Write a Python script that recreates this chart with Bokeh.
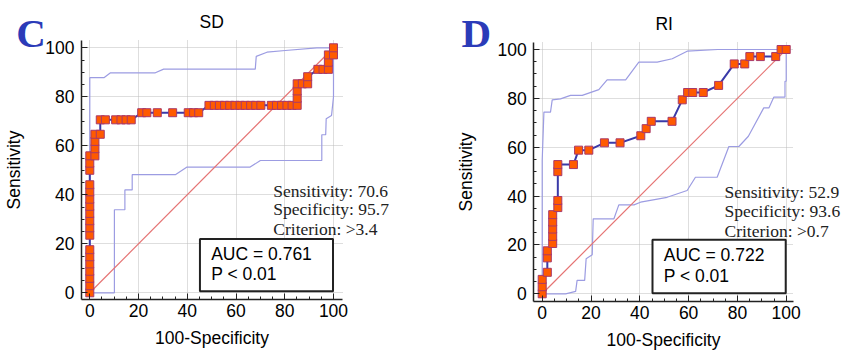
from bokeh.plotting import figure
from bokeh.layouts import row
from bokeh.models import FixedTicker, Label, BoxAnnotation, Range1d, Grid
from bokeh.embed import file_html
from bokeh.resources import INLINE

# ---------------- data ----------------
tick_values = [0, 20, 40, 60, 80, 100]
minor_values = [5, 10, 15, 25, 30, 35, 45, 50, 55, 65, 70, 75, 85, 90, 95]
x_title = "100-Specificity"
y_title = "Sensitivity"

# SD panel
sd_title = "SD"
sd_letter = "C"
sd_fpr = [0, 0, 0, 0, 0, 0, 0, 0, 0, 0, 0, 0, 0, 0, 0, 0, 0, 0,
          2.1, 2.1, 2.1, 2.1,
          4.3, 4.3, 6.4, 10.6, 12.8, 14.9, 17.0,
          21.3, 23.4, 27.7, 34.0, 40.4, 42.6, 44.7,
          48.9, 51.1, 53.2, 55.3, 57.4, 59.6, 61.7, 63.8, 66.0, 68.1, 70.2,
          74.5, 76.6, 78.7, 80.9, 83.0, 85.1,
          85.1, 85.1, 85.1, 87.2, 89.4, 89.4,
          93.6, 95.7, 97.9, 97.9, 97.9, 100, 100]
sd_tpr = [0, 2.9, 5.9, 8.8, 11.8, 14.7, 17.6, 23.5, 26.5, 29.4, 32.4, 35.3, 38.2, 41.2, 44.1, 50.0, 52.9, 55.9,
          55.9, 58.8, 61.8, 64.7,
          64.7, 70.6, 70.6, 70.6, 70.6, 70.6, 70.6,
          73.5, 73.5, 73.5, 73.5, 73.5, 73.5, 73.5,
          76.5, 76.5, 76.5, 76.5, 76.5, 76.5, 76.5, 76.5, 76.5, 76.5, 76.5,
          76.5, 76.5, 76.5, 76.5, 76.5, 76.5,
          79.4, 82.4, 85.3, 85.3, 85.3, 88.2,
          91.2, 91.2, 91.2, 94.1, 97.1, 97.1, 100]
sd_upper_x = [0, 0, 5.8, 8.5, 26.9, 30.3, 67.9, 68.3, 72.7, 80.2, 93.2, 100]
sd_upper_y = [0, 87.8, 87.8, 89.8, 89.8, 91.3, 91.3, 96.5, 98.2, 98.9, 100, 100]
sd_lower_x = [0, 10.1, 10.1, 14.4, 14.4, 17.4, 17.4, 35.1, 39.9, 65.8, 70.0, 95.2, 95.2, 96.8, 97.0, 99.2, 100, 100]
sd_lower_y = [0, 0, 33.9, 33.9, 42.0, 42.0, 48.2, 48.2, 51.3, 51.3, 54.0, 54.0, 64.5, 64.5, 71.0, 72.4, 80.0, 100]
sd_stats = ["Sensitivity: 70.6", "Specificity: 95.7", "Criterion: >3.4"]
sd_auc = ["AUC = 0.761", "P < 0.01"]

# RI panel
ri_title = "RI"
ri_letter = "D"
ri_fpr = [0, 0, 0, 2.1, 2.1, 2.1, 4.3, 4.3, 4.3, 4.3, 4.3, 6.4, 6.4, 6.4, 6.4,
          12.8, 14.9, 19.1, 25.5, 31.9, 40.4, 42.6, 44.7, 53.2, 57.4, 59.6, 61.7, 66.0,
          72.3, 78.7, 83.0, 85.1, 89.4, 95.7, 97.9, 100]
ri_tpr = [0, 2.9, 5.9, 8.8, 14.7, 17.6, 20.6, 23.5, 26.5, 29.4, 32.4, 35.3, 38.2, 50.0, 52.9,
          52.9, 58.8, 58.8, 61.8, 61.8, 64.7, 67.6, 70.6, 70.6, 79.4, 82.4, 82.4, 82.4,
          85.3, 94.1, 94.1, 97.1, 97.1, 97.1, 100, 100]
ri_upper_x = [0, 0, 0.7, 3.4, 4.1, 7.5, 11.6, 16.4, 23.2, 26.6, 34.2, 39.6, 47.1, 53.3, 59.4, 72.0, 100]
ri_upper_y = [0, 54.6, 74.4, 74.4, 79.4, 79.8, 81.2, 81.2, 83.6, 87.6, 87.6, 94.8, 94.8, 96.2, 99.3, 100, 100]
ri_lower_x = [0, 9.6, 13.7, 14.3, 17.4, 18.0, 20.5, 20.9, 29.4, 31.4, 37.6, 40.3, 51.2, 59.4, 62.8, 71.7,
              76.5, 80.6, 84.5, 90.8, 92.9, 94.9, 99.5, 99.5, 100, 100]
ri_lower_y = [0, 0, 1.0, 5.5, 5.5, 14.3, 16.0, 30.7, 30.7, 36.4, 36.4, 37.5, 39.5, 42.3, 47.7, 47.7,
              60.3, 60.3, 64.5, 76.1, 76.1, 80.5, 80.5, 87.0, 87.0, 100]
ri_stats = ["Sensitivity: 52.9", "Specificity: 93.6", "Criterion: >0.7"]
ri_auc = ["AUC = 0.722", "P < 0.01"]

# ---------------- styling ----------------
SANS = "Liberation Sans"
SERIF = "Liberation Serif"
FS = "17.5px"
FS_STATS = "17.5px"
ROC_COLOR = "#3a3aa8"
BAND_COLOR = "#9c9ce2"
DIAG_COLOR = "#e57373"
MARK_FILL = "#ff5a00"
MARK_LINE = "#a8386a"
LETTER_COLOR = "#2b3bb8"
HAS_CROSS = "cross_bounds" in Grid.properties()


def make_panel(title, letter, fpr, tpr, ux, uy, lx, ly, stats, auc,
               width, xr, yr, xb, yb, letter_pos, stats_x, stats_y,
               title_y, auc_y, box_bt):
    p = figure(width=width, height=351,
               x_range=Range1d(*xr), y_range=Range1d(*yr),
               output_backend="svg", toolbar_location=None,
               min_border=0)
    p.outline_line_color = None
    p.background_fill_color = "white"
    p.border_fill_color = "white"

    ticker = FixedTicker(ticks=tick_values, minor_ticks=minor_values)
    xax, yax = p.xaxis[0], p.yaxis[0]
    xax.fixed_location = yb[0]
    yax.fixed_location = xb[0]
    xax.bounds = xb
    yax.bounds = yb
    for ax in (xax, yax):
        ax.ticker = ticker
        ax.axis_line_color = "#222222"
        ax.axis_line_width = 1.5
        ax.major_tick_in = 6
        ax.major_tick_out = 0
        ax.minor_tick_in = 3
        ax.minor_tick_out = 0
        ax.major_tick_line_color = "#222222"
        ax.minor_tick_line_color = "#222222"
        ax.major_label_text_font = SANS
        ax.major_label_text_font_size = FS
        ax.major_label_text_color = "black"
        ax.axis_label_text_font = SANS
        ax.axis_label_text_font_size = FS
        ax.axis_label_text_font_style = "normal"
        ax.axis_label_text_color = "black"
    xax.axis_label = x_title
    yax.axis_label = y_title
    xax.major_label_standoff = 5
    xax.axis_label_standoff = 7
    yax.major_label_standoff = 7
    yax.axis_label_standoff = 18

    xg, yg = p.xgrid[0], p.ygrid[0]
    for g, cb in ((xg, yb), (yg, xb)):
        g.ticker = ticker
        g.grid_line_dash = "1 1"
        g.grid_line_width = 1
        if HAS_CROSS:
            g.cross_bounds = cb
            g.grid_line_color = "#bcbcbc"
        else:
            g.grid_line_color = None
    if not HAS_CROSS:
        p.segment(x0=tick_values, y0=[yb[0]] * len(tick_values),
                  x1=tick_values, y1=[yb[1]] * len(tick_values),
                  line_color="#bcbcbc", line_dash="1 1", line_width=1)
        p.segment(x0=[xb[0]] * len(tick_values), y0=tick_values,
                  x1=[xb[1]] * len(tick_values), y1=tick_values,
                  line_color="#bcbcbc", line_dash="1 1", line_width=1)

    # confidence bands
    p.line(ux, uy, line_color=BAND_COLOR, line_width=1.2)
    p.line(lx, ly, line_color=BAND_COLOR, line_width=1.2)
    # reference diagonal
    p.line([tick_values[0], tick_values[-1]], [tick_values[0], tick_values[-1]],
           line_color=DIAG_COLOR, line_width=1.2)
    # ROC curve
    p.line(fpr, tpr, line_color=ROC_COLOR, line_width=2)
    p.scatter(fpr, tpr, marker="square", size=8, fill_color=MARK_FILL,
              line_color=MARK_LINE, line_width=1)

    # AUC box
    p.add_layout(BoxAnnotation(left=45.2, right=99.8, bottom=box_bt[0], top=box_bt[1],
                               fill_color="white", fill_alpha=1.0,
                               line_color="#222222", line_width=2,
                               line_alpha=1.0))
    for txt, yy in zip(auc, auc_y):
        p.add_layout(Label(x=49.8, y=yy, text=txt, text_font=SANS,
                           text_font_size=FS, text_color="black",
                           text_baseline="middle", text_align="left"))
    # stats
    for txt, yy in zip(stats, stats_y):
        p.add_layout(Label(x=stats_x, y=yy, text=txt, text_font=SERIF,
                           text_font_size=FS_STATS, text_color="#222222",
                           text_baseline="middle", text_align="left"))
    # title
    p.add_layout(Label(x=50, y=title_y, text=title, text_font=SANS,
                       text_font_size=FS, text_color="black",
                       text_baseline="middle", text_align="center"))
    # panel letter
    p.add_layout(Label(x=letter_pos[0], y=letter_pos[1], text=letter, text_font=SERIF,
                       text_font_size="41px", text_font_style="bold",
                       text_color=LETTER_COLOR,
                       text_baseline="middle", text_align="center"))
    return p


p1 = make_panel(sd_title, sd_letter, sd_fpr, sd_tpr, sd_upper_x, sd_upper_y,
                sd_lower_x, sd_lower_y, sd_stats, sd_auc,
                width=420, xr=(-36.64, 135.7), yr=(-23.96, 119.3),
                xb=(-3.4, 103.6), yb=(-2.7, 103.0),
                letter_pos=(-24.1, 106.2), stats_x=75.3,
                stats_y=[41.6, 34.0, 26.2], title_y=110.5,
                auc_y=[16.0, 7.5], box_bt=(0.65, 22.0))
p2 = make_panel(ri_title, ri_letter, ri_fpr, ri_tpr, ri_upper_x, ri_upper_y,
                ri_lower_x, ri_lower_y, ri_stats, ri_auc,
                width=421, xr=(-49.88, 122.66), yr=(-23.62, 120.06),
                xb=(-3.44, 103.0), yb=(-3.15, 103.0),
                letter_pos=(-27.0, 106.7), stats_x=74.7,
                stats_y=[41.7, 33.8, 25.9], title_y=110.6,
                auc_y=[15.8, 7.2], box_bt=(0.25, 22.1))

layout = row(p1, p2)
open("out.html", "w").write(file_html(layout, INLINE))
